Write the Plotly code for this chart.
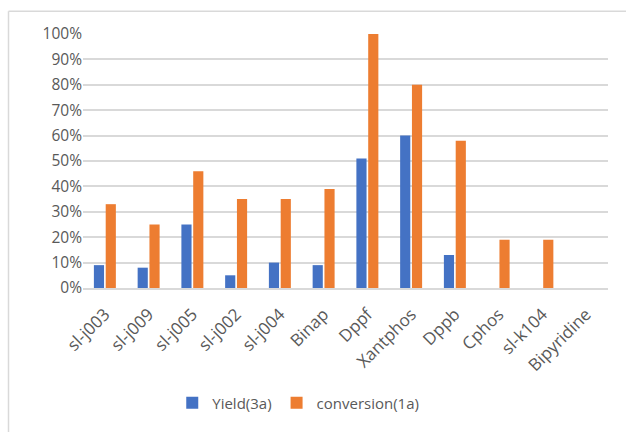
import plotly.graph_objects as go

categories = ["sl-j003", "sl-j009", "sl-j005", "sl-j002", "sl-j004", "Binap",
              "Dppf", "Xantphos", "Dppb", "Cphos", "sl-k104", "Bipyridine"]
yield_3a = [9, 8, 25, 5, 10, 9, 51, 60, 13, 0, 0, 0]
conversion_1a = [33, 25, 46, 35, 35, 39, 100, 80, 58, 19, 19, 0]
y_ticks = list(range(0, 101, 10))
y_tick_labels = [f"{v}%" for v in y_ticks]

font_family = "Open Sans, Liberation Sans, sans-serif"
text_color = "#595959"

fig = go.Figure()
fig.add_trace(go.Bar(x=categories, y=yield_3a, name="Yield(3a)",
                     marker=dict(color="#4472C4", line=dict(width=0))))
fig.add_trace(go.Bar(x=categories, y=conversion_1a, name="conversion(1a)",
                     marker=dict(color="#ED7D31", line=dict(width=0))))

fig.update_layout(
    width=626, height=432,
    margin=dict(l=83, r=18, t=34, b=142),
    paper_bgcolor="white", plot_bgcolor="white",
    barmode="group", bargap=0.46, bargroupgap=0.14,
    font=dict(family=font_family, size=15, color=text_color),
    showlegend=True,
    legend=dict(orientation="h", x=0.41, xanchor="center", y=-0.453, yanchor="middle",
                font=dict(size=15, color=text_color), itemwidth=30, traceorder="normal"),
    xaxis=dict(tickangle=-45, showgrid=False, showline=True, linecolor="#d9d9d9",
               linewidth=1.5, ticks="outside", ticklen=8, tickcolor="rgba(0,0,0,0)",
               tickfont=dict(size=17, color=text_color)),
    yaxis=dict(range=[0, 100], tickvals=y_ticks, ticktext=y_tick_labels,
               showgrid=True, gridcolor="#d9d9d9", gridwidth=1.5, zeroline=False,
               showline=False, ticks="", ticklen=0,
               tickfont=dict(size=15.5, color=text_color)),
    shapes=[
        dict(type="line", xref="paper", yref="paper",
             x0=(8.5 - 83) / 525, x1=(8.5 - 83) / 525, y0=(290 - 11) / 256, y1=(290 - 440) / 256,
             line=dict(color="#d9d9d9", width=1.5)),
        dict(type="line", xref="paper", yref="paper",
             x0=(8.5 - 83) / 525, x1=(640 - 83) / 525, y0=(290 - 11) / 256, y1=(290 - 11) / 256,
             line=dict(color="#d9d9d9", width=1.5)),
    ],
)

fig.write_html("out.html")
